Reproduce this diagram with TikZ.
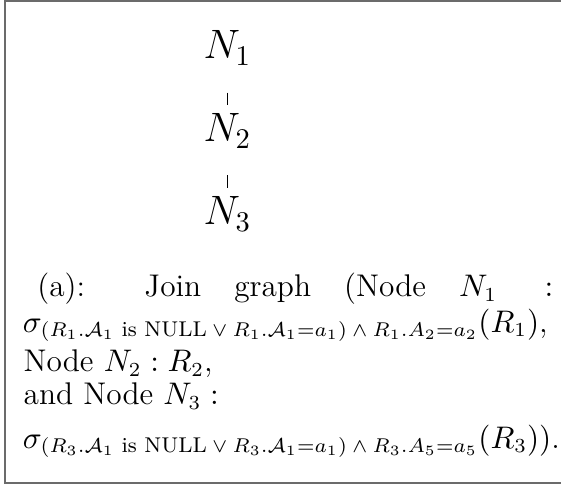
\documentclass[tikz,border=0pt]{standalone}
\usepackage{amsmath}
\DeclareMathSizes{11}{11}{7.5}{5.5}
\definecolor{framecol}{rgb}{0.42,0.42,0.42}
\begin{document}
\begin{tikzpicture}[
  gnode/.style={inner sep=0pt, outer sep=0pt, anchor=base, font=\fontsize{13.6}{16}\selectfont},
  capline/.style={inner sep=0pt, outer sep=0pt, anchor=base west, font=\fontsize{11}{13.5}\selectfont},
  gedge/.style={draw, line width=0.4pt}
]
\useasboundingbox (0,0) rectangle (196.84pt,-170.53pt);
% frame (open on the right)
\draw[framecol, line width=0.7pt] (196.84pt,-0.35pt) -- (1.7pt,-0.35pt) -- (1.7pt,-169.6pt) -- (196.84pt,-169.6pt);
% join graph
\node[gnode] (N1) at (79.8pt,-20.7pt) {$N_1$};
\node[gnode] (N2) at (79.8pt,-49.8pt) {$N_2$};
\node[gnode] (N3) at (79.8pt,-78.9pt) {$N_3$};
\draw[gedge, shorten <=9.6pt, shorten >=3.2pt] (N1.south) -- (N2.north);
\draw[gedge, shorten <=9.6pt, shorten >=3.2pt] (N2.south) -- (N3.north);
% caption
\node[capline] (L1) at (9.8pt,-104.2pt) {\hspace{0.3em}\makebox[181pt][s]{(a): Join graph (Node $N_1 :$}};
\node[capline] (L2) at (8.0pt,-116.5pt) {$\sigma_{(R_1.\mathcal{A}_1 \text{ is NULL}\:\vee\: R_1.\mathcal{A}_1 = a_1)\:\wedge\: R_1.A_2 = a_2}(R_1)$,};
\node[capline] (L3) at (8.3pt,-130.5pt) {Node $N_2 : R_2$,};
\node[capline] (L4) at (8.3pt,-142.1pt) {and Node $N_3 :$};
\node[capline] (L5) at (8.0pt,-157.2pt) {$\sigma_{(R_3.\mathcal{A}_1 \text{ is NULL}\:\vee\: R_3.\mathcal{A}_1 = a_1)\:\wedge\: R_3.A_5 = a_5}(R_3))$.};
\end{tikzpicture}
\end{document}
